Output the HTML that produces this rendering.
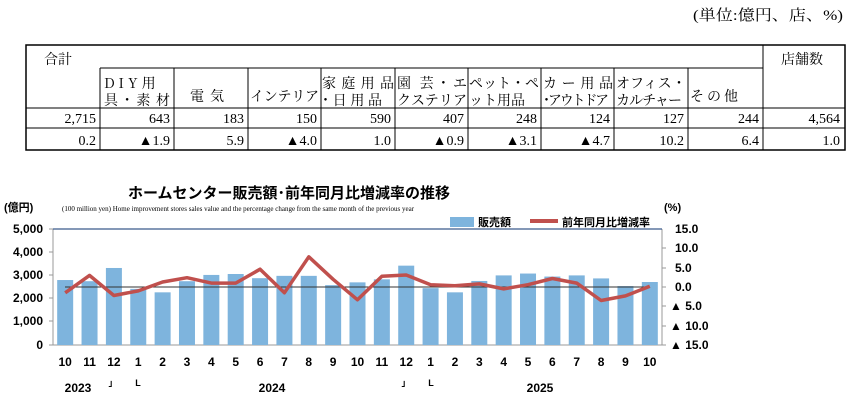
<!DOCTYPE html>
<html><head><meta charset="utf-8"><style>
body{margin:0;width:847px;height:403px;background:#fff;overflow:hidden;font-family:"Liberation Serif","Noto Serif CJK SC","Noto Sans CJK JP",serif;}
svg{position:absolute;left:0;top:0}
</style></head><body>
<svg width="847" height="403" xmlns="http://www.w3.org/2000/svg">
<g font-family="Liberation Serif, Noto Serif CJK JP, Noto Serif CJK SC, serif" fill="#000">
<text x="843" y="20" font-size="15" text-anchor="end" textLength="150" lengthAdjust="spacingAndGlyphs">(単位:億円、店、%)</text>
<g stroke="#000" fill="none">
<rect x="26" y="45" width="819" height="105" stroke-width="1.5"/>
<line x1="100" y1="68" x2="763" y2="68"/>
<line x1="763" y1="45" x2="763" y2="150"/>
<line x1="26" y1="108" x2="845" y2="108"/>
<line x1="26" y1="128" x2="845" y2="128"/>
<line x1="100" y1="68" x2="100" y2="150"/>
<line x1="174" y1="68" x2="174" y2="150"/>
<line x1="248" y1="68" x2="248" y2="150"/>
<line x1="321" y1="68" x2="321" y2="150"/>
<line x1="395" y1="68" x2="395" y2="150"/>
<line x1="468" y1="68" x2="468" y2="150"/>
<line x1="541" y1="68" x2="541" y2="150"/>
<line x1="614" y1="68" x2="614" y2="150"/>
<line x1="688" y1="68" x2="688" y2="150"/>
</g>
<g font-size="14" font-family="Noto Serif CJK JP, Noto Serif CJK SC, Liberation Serif, serif" lengthAdjust="spacingAndGlyphs">
<text x="44" y="64">合計</text>
<text x="781" y="64">店舗数</text>
<text x="104" y="88" letter-spacing="4">DIY用</text>
<text x="104" y="105" textLength="66">具･素材</text>
<text x="190" y="101" letter-spacing="6">電気</text>
<text x="250" y="101" textLength="69">インテリア</text>
<text x="322" y="88" textLength="72">家庭用品</text>
<text x="322" y="105" textLength="60">･日用品</text>
<text x="397" y="88" textLength="70">園 芸・エ</text>
<text x="397" y="105" textLength="70">クステリア</text>
<text x="469" y="88" textLength="70">ペット・ペ</text>
<text x="469" y="105" textLength="56">ット用品</text>
<text x="543" y="88" textLength="70">カー用品</text>
<text x="543" y="105" textLength="66">･アウトドア</text>
<text x="616" y="88" textLength="70">オフィス・</text>
<text x="616" y="105" textLength="66">カルチャー</text>
<text x="690" y="101" textLength="48">その他</text>
</g>
<g font-size="14" text-anchor="end">
<text x="96" y="123">2,715</text><text x="170" y="123">643</text><text x="244" y="123">183</text><text x="317" y="123">150</text><text x="391" y="123">590</text><text x="464" y="123">407</text><text x="537" y="123">248</text><text x="610" y="123">124</text><text x="684" y="123">127</text><text x="759" y="123">244</text><text x="840" y="123">4,564</text>
<text x="96" y="145">0.2</text><text x="170" y="145">▲1.9</text><text x="244" y="145">5.9</text><text x="317" y="145">▲4.0</text><text x="391" y="145">1.0</text><text x="464" y="145">▲0.9</text><text x="537" y="145">▲3.1</text><text x="610" y="145">▲4.7</text><text x="684" y="145">10.2</text><text x="759" y="145">6.4</text><text x="840" y="145">1.0</text>
</g>
</g>
<g font-family="Liberation Sans, Noto Sans CJK JP, sans-serif">
<text x="128" y="198" font-size="15" font-weight="bold">ホームセンター販売額･前年同月比増減率の推移</text>
<text x="4" y="211" font-size="11" font-weight="bold">(億円)</text>
<text x="664" y="211" font-size="11" font-weight="bold">(%)</text>
<text x="62" y="211" font-size="7" font-family="Liberation Serif, serif">(100 million yen)  Home improvement stores sales value and the percentage change from the same month of the previous year</text>
<rect x="450" y="217" width="24" height="10" fill="#7eb4dd"/>
<text x="478" y="226" font-size="11" font-weight="bold">販売額</text>
<line x1="530" y1="221" x2="558" y2="221" stroke="#c0504d" stroke-width="4"/>
<text x="562" y="226" font-size="11" font-weight="bold">前年同月比増減率</text>
<g font-size="12" font-weight="bold" text-anchor="end">
<text x="43" y="233">5,000</text><text x="43" y="256">4,000</text><text x="43" y="279">3,000</text><text x="43" y="302">2,000</text><text x="43" y="325">1,000</text><text x="43" y="349">0</text>
</g>
<g font-size="12" font-weight="bold">
<text x="675" y="233">15.0</text><text x="675" y="252">10.0</text><text x="675" y="272">5.0</text><text x="675" y="291">0.0</text><text x="670" y="310">▲ 5.0</text><text x="670" y="330">▲ 10.0</text><text x="670" y="349">▲ 15.0</text>
</g>
<line x1="53" y1="229" x2="53" y2="345" stroke="#999"/>
<line x1="662" y1="229" x2="662" y2="345" stroke="#999"/>
<line x1="53" y1="229" x2="662" y2="229" stroke="#3a5a8c" stroke-width="1.2"/>
<line x1="53" y1="345" x2="662" y2="345" stroke="#999"/>
<g stroke="#999"><line x1="49" y1="229" x2="53" y2="229"/><line x1="49" y1="252" x2="53" y2="252"/><line x1="49" y1="275" x2="53" y2="275"/><line x1="49" y1="298" x2="53" y2="298"/><line x1="49" y1="321" x2="53" y2="321"/><line x1="49" y1="345" x2="53" y2="345"/>
<line x1="662" y1="248" x2="666" y2="248"/><line x1="662" y1="268" x2="666" y2="268"/><line x1="662" y1="287" x2="666" y2="287"/><line x1="662" y1="306" x2="666" y2="306"/><line x1="662" y1="326" x2="666" y2="326"/><line x1="662" y1="345" x2="666" y2="345"/></g>
<g id="bars" fill="#7eb4dd"></g>
<line x1="65" y1="287" x2="650" y2="287" stroke="#333" stroke-width="1"/>
<polyline id="ln" fill="none" stroke="#c0504d" stroke-width="3.5" stroke-linejoin="round"/>
<g id="xl" font-size="12" font-weight="bold" text-anchor="middle"></g>
<g font-size="12" font-weight="bold" text-anchor="middle">
<text x="78" y="392">2023</text><text x="113" y="386" font-size="9">」</text><text x="138" y="386" font-size="9">L</text>
<text x="272" y="392">2024</text><text x="406" y="386" font-size="9">」</text><text x="431" y="386" font-size="9">L</text>
<text x="540" y="392">2025</text>
</g>
</g>
</svg>
<script>
var v=[2800,2750,3320,2420,2270,2750,3020,3060,2880,2980,2980,2580,2700,2830,3420,2450,2270,2760,3000,3080,2950,3000,2870,2540,2715];
var p=[-1.5,3.0,-2.2,-1.0,1.3,2.4,1.0,1.0,4.6,-1.5,7.8,2.0,-3.3,2.8,3.1,0.6,0.3,0.8,-0.5,0.6,2.2,1.0,-3.5,-2.3,0.2];
var m=[10,11,12,1,2,3,4,5,6,7,8,9,10,11,12,1,2,3,4,5,6,7,8,9,10];
var ns="http://www.w3.org/2000/svg",b=document.getElementById('bars'),x=document.getElementById('xl'),pts=[];
for(var i=0;i<25;i++){var c=53+24.36*(i+0.5);var h=v[i]*0.0232;
var r=document.createElementNS(ns,'rect');r.setAttribute('x',c-8);r.setAttribute('y',345-h);r.setAttribute('width',16);r.setAttribute('height',h);b.appendChild(r);
pts.push(c.toFixed(1)+','+(287-p[i]*3.87).toFixed(1));
var t=document.createElementNS(ns,'text');t.setAttribute('x',c);t.setAttribute('y',366);t.textContent=m[i];x.appendChild(t);}
document.getElementById('ln').setAttribute('points',pts.join(' '));
</script>
</body></html>
